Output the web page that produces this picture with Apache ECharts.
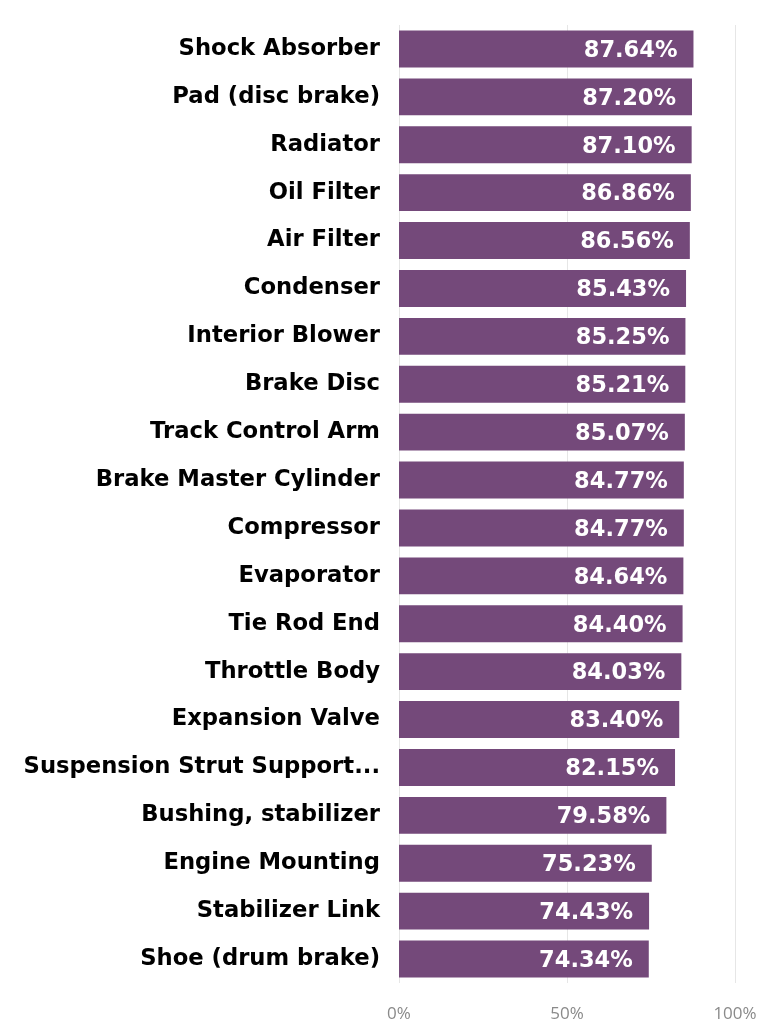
<!DOCTYPE html>
<html>
<head>
<meta charset="utf-8">
<script src="https://cdn.jsdelivr.net/npm/echarts@6/dist/echarts.min.js"></script>
<style>
html,body{margin:0;padding:0;background:#fff;}
#main{width:768px;height:1023px;}
</style>
</head>
<body>
<div id="main"></div>
<script>
var parts = ['Shock Absorber','Pad (disc brake)','Radiator','Oil Filter','Air Filter','Condenser',
    'Interior Blower','Brake Disc','Track Control Arm','Brake Master Cylinder','Compressor',
    'Evaporator','Tie Rod End','Throttle Body','Expansion Valve','Suspension Strut Support...',
    'Bushing, stabilizer','Engine Mounting','Stabilizer Link','Shoe (drum brake)'];
var rates = [87.64,87.20,87.10,86.86,86.56,85.43,85.25,85.21,85.07,84.77,84.77,
    84.64,84.40,84.03,83.40,82.15,79.58,75.23,74.43,74.34];
var ticks = [0,50,100];

var myChart = echarts.init(document.getElementById('main'));

var option = {
    animation: false,
    grid: {
        left: 399,
        right: 33,
        top: 25,
        bottom: 38,
        containLabel: false
    },
    xAxis: {
        type: 'value',
        min: 0,
        max: 100,
        interval: 50,
        axisLine: {show: false},
        axisTick: {show: false},
        splitLine: {lineStyle: {color: '#e6e6e6', width: 1}},
        axisLabel: {
            margin: 23,
            color: '#8a8a8a',
            fontFamily: 'Open Sans',
            fontSize: 17,
            formatter: function(v){ return ticks.indexOf(v) >= 0 ? v + '%' : ''; }
        }
    },
    yAxis: {
        type: 'category',
        inverse: true,
        data: parts,
        axisLine: {show: false},
        axisTick: {show: false},
        axisLabel: {
            margin: 19,
            color: '#000',
            fontFamily: 'DejaVu Sans',
            fontWeight: 'bold',
            fontSize: 22.7
        }
    },
    series: [
        {
            type: 'bar',
            data: rates,
            barCategoryGap: '23%',
            itemStyle: {color: '#74497a'},
            label: {
                show: true,
                position: 'insideRight',
                distance: 16,
                offset: [0, 2],
                color: '#fff',
                fontFamily: 'DejaVu Sans',
                fontWeight: 'bold',
                fontSize: 22.5,
                formatter: function(p){ return p.value.toFixed(2) + '%'; }
            }
        }
    ]
};
myChart.setOption(option);
</script>
</body>
</html>
